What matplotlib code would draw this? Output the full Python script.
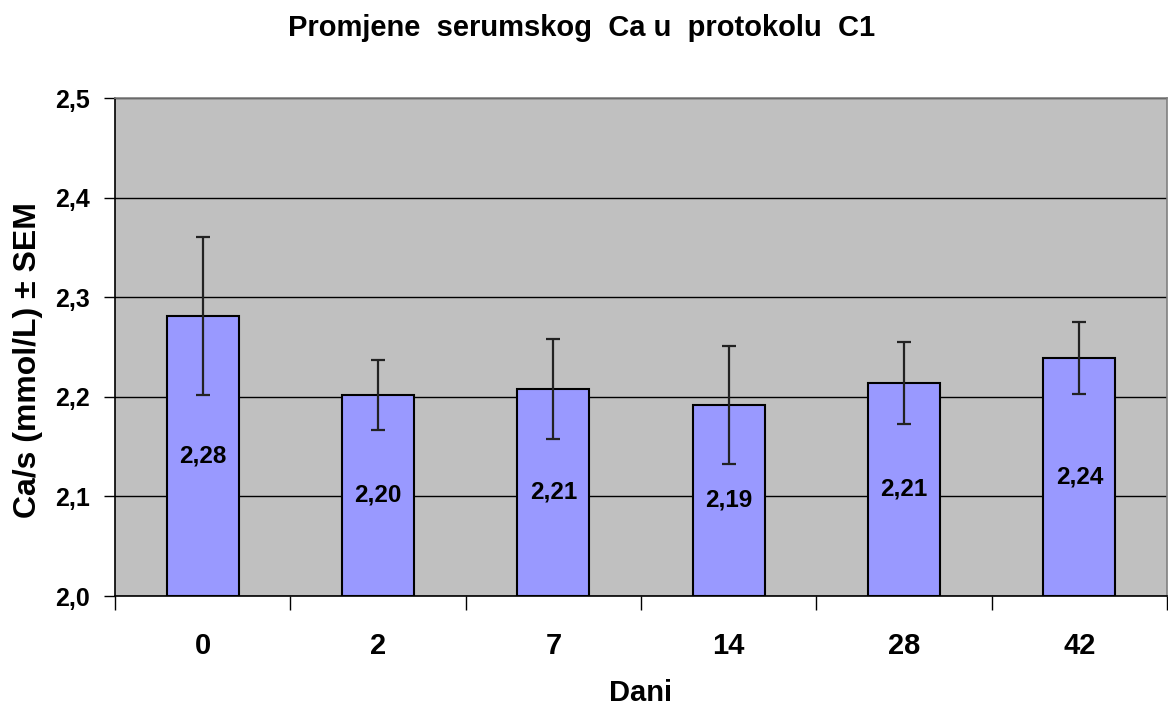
import matplotlib
matplotlib.use("Agg")
import matplotlib.pyplot as plt
from matplotlib.ticker import FixedLocator, FuncFormatter

# Serum Ca by day of protocol C1 (mean ± SEM)
days = ["0", "2", "7", "14", "28", "42"]
ca_mean = [2.281, 2.202, 2.208, 2.192, 2.214, 2.239]
ca_sem = [0.079, 0.035, 0.050, 0.059, 0.041, 0.036]
y_ticks = [2.0, 2.1, 2.2, 2.3, 2.4, 2.5]

plt.rcParams["font.family"] = ["Liberation Sans", "DejaVu Sans"]
plt.rcParams["font.weight"] = "bold"

fig = plt.figure(figsize=(11.68, 7.11), dpi=100)
ax = fig.add_axes([115 / 1168, 1 - 596 / 711, 1052 / 1168, (596 - 98) / 711])
ax.set_facecolor("#C0C0C0")

x = list(range(len(days)))
ax.set_axisbelow(True)
ax.yaxis.grid(True, color="black", linewidth=1.0)

ax.bar(x, [m - 2.0 for m in ca_mean], bottom=2.0, width=0.41,
       color="#9999FF", edgecolor="black", linewidth=1.5, zorder=2)
ax.errorbar(x, ca_mean, yerr=ca_sem, fmt="none", ecolor="#222222",
            elinewidth=1.6, capsize=5, capthick=1.6, zorder=3)

for xi, m in zip(x, ca_mean):
    ax.text(xi, (2.0 + m) / 2, f"{m:.2f}".replace(".", ","),
            ha="center", va="center", fontsize=17.5, fontweight="bold", zorder=4)

ax.set_xlim(-0.5, len(days) - 0.5)
ax.set_ylim(2.0, 2.5)

ax.yaxis.set_major_locator(FixedLocator(y_ticks))
ax.yaxis.set_major_formatter(FuncFormatter(lambda v, p: f"{v:.1f}".replace(".", ",")))
ax.tick_params(axis="y", length=8, width=1, pad=10, labelsize=18, colors="black")

ax.set_xticks(x)
ax.set_xticklabels(days)
ax.xaxis.set_minor_locator(FixedLocator([i - 0.5 for i in range(len(days) + 1)]))
ax.tick_params(axis="x", which="major", length=0, pad=26, labelsize=21)
ax.tick_params(axis="x", which="minor", length=10, width=1)
for lbl in ax.get_xticklabels() + ax.get_yticklabels():
    lbl.set_fontweight("bold")

ax.spines["left"].set_color("black")
ax.spines["bottom"].set_color("black")
ax.spines["top"].set_color("#808080")
ax.spines["right"].set_color("#808080")
for s in ax.spines.values():
    s.set_linewidth(1.2)

fig.text(582 / 1168, 1 - 28 / 711, "Promjene  serumskog  Ca u  protokolu  C1",
         ha="center", va="center", fontsize=21, fontweight="bold")
fig.text(641 / 1168, 1 - 693 / 711, "Dani", ha="center", va="center",
         fontsize=21, fontweight="bold")
fig.text(28 / 1168, 1 - 360 / 711, "Ca/s (mmol/L) ± SEM", ha="center", va="center",
         rotation=90, fontsize=23, fontweight="bold")

fig.savefig("out.png", dpi=100)
